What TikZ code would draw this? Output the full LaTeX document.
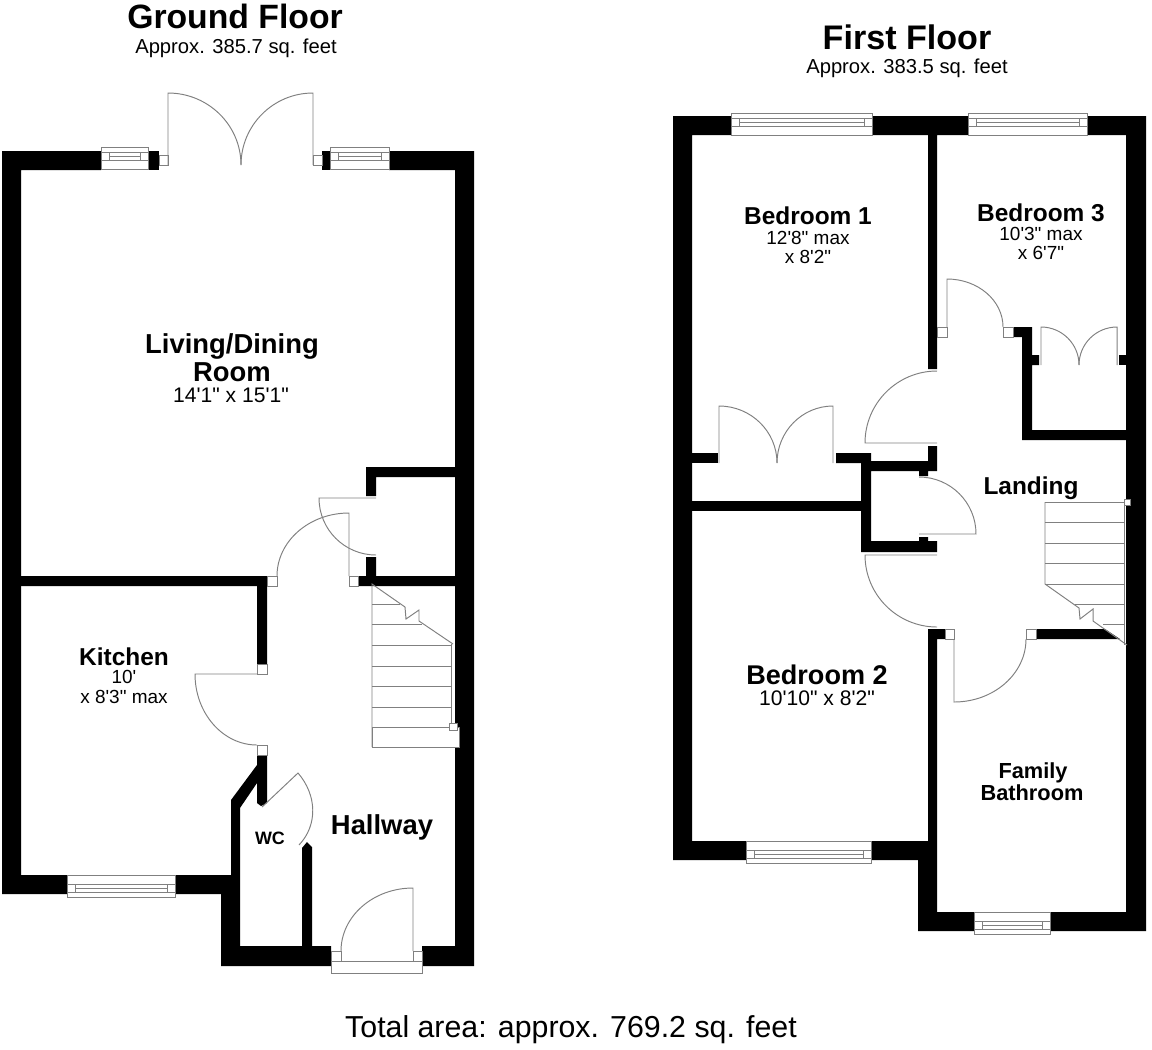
\documentclass[tikz,border=0pt]{standalone}
\usepackage{fontspec}
\usetikzlibrary{calc}
\newfontfamily\planfont{Liberation Sans}
\tikzset{
  wall/.style={fill=black,draw=none},
  planline/.style={draw=black!50,line width=0.55pt},
  boxline/.style={draw=black!50,fill=white,line width=0.55pt},
  floorname/.style={inner sep=0pt,font=\planfont\bfseries\fontsize{#1}{22}\selectfont},
  floorarea/.style={inner sep=0pt,font=\planfont\fontsize{11.5}{14}\selectfont},
  roomname/.style={inner sep=0pt,font=\planfont\bfseries\fontsize{#1}{18}\selectfont},
  roomdim/.style={inner sep=0pt,font=\planfont\fontsize{#1}{14}\selectfont}
}
% hinge, tip of the leaf, end of the swing
\newcommand{\doorleaf}[3]{
  \coordinate (corner) at ($(#2)+(#3)-(#1)$);
  \draw[planline] (#1) -- (#2) .. controls ($(#2)!0.5523!(corner)$) and ($(#3)!0.5523!(corner)$) .. (#3);
}
% left, right, top of frame, offset of the first glazing line
\newcommand{\sashwindow}[4]{
  \draw[boxline] (#1,#3) rectangle (#2,#3+22);
  \draw[planline] (#1,#3+#4) -- (#2,#3+#4);
  \draw[planline] (#1,#3+#4+8) -- (#2,#3+#4+8);
  \draw[planline] (#1+8,#3+#4) -- (#1+8,#3+#4+8);
  \draw[planline] (#2-8,#3+#4) -- (#2-8,#3+#4+8);
  \draw[planline] (#1+8,#3+#4+4) -- (#2-8,#3+#4+4);
}
\begin{document}
\begin{tikzpicture}[x=0.02cm,y=-0.02cm]
      \useasboundingbox (0,0) rectangle (1152,1049);
      % ground floor
      \fill[wall] (2,151) -- (101,151) -- (101,170) -- (21,170) -- (21,875) -- (67,875) -- (67,894) -- (2,894) -- cycle;
      \fill[wall] (148,151) rectangle (159,170);
      \fill[wall] (322,151) rectangle (330,170);
      \fill[wall] (389,151) -- (474,151) -- (474,966) -- (422,966) -- (422,946) -- (455,946) -- (455,170) -- (389,170) -- cycle;
      \fill[wall] (175,875) -- (231,875) -- (231,800) -- (257,765) -- (257,755) -- (267,755) -- (267,803) -- (261,806) -- (257,803) -- (257,783) -- (240,808) -- (240,946) -- (302,946) -- (302,848) -- (307,842) -- (312,847) -- (312,946) -- (331,946) -- (331,966) -- (221,966) -- (221,894) -- (175,894) -- cycle;
      \fill[wall] (21,576) -- (267,576) -- (267,664) -- (257,664) -- (257,586) -- (21,586) -- cycle;
      \fill[wall] (366,467) -- (455,467) -- (455,477) -- (376,477) -- (376,496) -- (366,496) -- cycle;
      \fill[wall] (366,557) -- (376,557) -- (376,576) -- (455,576) -- (455,586) -- (358,586) -- (358,576) -- (366,576) -- cycle;
      \sashwindow{101}{148}{147}{5}
      \sashwindow{330}{389}{147}{5}
      \sashwindow{67}{175}{875}{9}
      \draw[boxline] (159,155) rectangle (168,165);
      \draw[boxline] (313,155) rectangle (322,165);
      \draw[boxline] (267,576) rectangle (277,586);
      \draw[boxline] (349,576) rectangle (358,586);
      \draw[boxline] (257,664) rectangle (267,674);
      \draw[boxline] (257,745) rectangle (267,755);
      \draw[boxline] (331,951) rectangle (341,961);
      \draw[boxline] (413,951) rectangle (422,961);
      \draw[boxline] (331,961) rectangle (422,973);
      \doorleaf{168,165}{168,93}{241,165}
      \doorleaf{313,165}{313,93}{241,165}
      \doorleaf{349,576}{349,513}{277,576}
      \doorleaf{376,498}{319,498}{376,555}
      \doorleaf{257,674}{195,674}{257,745}
      \doorleaf{413,951}{413,888}{341,951}
      \draw[planline] (262,807) -- (298,773) .. controls (317,795) and (318,825) .. (299,845);
      % ground floor stairs
      \draw[boxline] (372,727) rectangle (459,747);
      \foreach \treadY in {645,666,686,707} {\draw[planline] (372,\treadY) -- (451,\treadY);}
      \draw[planline] (372,604) -- (400,604);
      \draw[planline] (372,624) -- (422,624);
      \draw[planline] (372,747) -- (372,584) -- (405,607) -- (406,619) -- (419,610) -- (419,621) -- (453,644);
      \draw[planline] (451,644) -- (451,727);
      \draw[boxline] (449,723) rectangle (457,730);
      % first floor
      \fill[wall] (673,116) -- (731,116) -- (731,135) -- (692,135) -- (692,841) -- (746,841) -- (746,860) -- (673,860) -- cycle;
      \fill[wall] (872,116) -- (968,116) -- (968,135) -- (937,135) -- (937,369) -- (928,369) -- (928,135) -- (872,135) -- cycle;
      \fill[wall] (1087,116) -- (1146,116) -- (1146,931) -- (1050,931) -- (1050,912) -- (1126,912) -- (1126,135) -- (1087,135) -- cycle;
      \fill[wall] (871,841) -- (928,841) -- (928,629) -- (945,629) -- (945,639) -- (937,639) -- (937,912) -- (974,912) -- (974,931) -- (918,931) -- (918,860) -- (871,860) -- cycle;
      \fill[wall] (1013,327) -- (1032,327) -- (1032,355) -- (1039,355) -- (1039,365) -- (1032,365) -- (1032,430) -- (1126,430) -- (1126,440) -- (1022,440) -- (1022,337) -- (1013,337) -- cycle;
      \fill[wall] (1119,355) rectangle (1126,365);
      \fill[wall] (692,453) rectangle (718,463);
      \fill[wall] (692,501) rectangle (861,511);
      \fill[wall] (836,453) -- (871,453) -- (871,461) -- (928,461) -- (928,446) -- (937,446) -- (937,471) -- (928,471) -- (928,476) -- (919,476) -- (919,471) -- (871,471) -- (871,541) -- (919,541) -- (919,537) -- (928,537) -- (928,541) -- (937,541) -- (937,552) -- (861,552) -- (861,463) -- (836,463) -- cycle;
      \fill[wall] (1036,629) -- (1105,629) -- (1120,639) -- (1036,639) -- cycle;
      \sashwindow{731}{872}{113}{5}
      \sashwindow{968}{1087}{113}{5}
      \sashwindow{746}{871}{841}{9}
      \sashwindow{974}{1050}{912}{9}
      \draw[boxline] (937,327) rectangle (947,337);
      \draw[boxline] (1003,327) rectangle (1013,337);
      \draw[boxline] (945,629) rectangle (954,639);
      \draw[boxline] (1026,629) rectangle (1036,639);
      \doorleaf{719,463}{719,406}{777,463}
      \doorleaf{833,463}{833,406}{777,463}
      \doorleaf{937,443}{865,443}{937,371}
      \doorleaf{947,327}{947,279}{1003,327}
      \doorleaf{1041,365}{1041,327}{1079,365}
      \doorleaf{1117,365}{1117,327}{1079,365}
      \doorleaf{919,534}{976,534}{919,477}
      \doorleaf{937,555}{865,555}{937,627}
      \doorleaf{954,639}{954,702}{1026,639}
      % first floor stairs
      \foreach \treadY in {502,522,543,563,584} {\draw[planline] (1045,\treadY) -- (1124,\treadY);}
      \draw[planline] (1075,604) -- (1124,604);
      \draw[planline] (1103,624) -- (1124,624);
      \draw[planline] (1045,502) -- (1045,584) -- (1079,608) -- (1080,619) -- (1093,609) -- (1093,621) -- (1127,645);
      \draw[planline] (1124,502) -- (1124,645);
      \draw[boxline] (1124,499) rectangle (1130,505);
      % texts
      \node[floorname=19.2] (groundtitle) at (235,16) {Ground Floor};
      \node[floorarea] (groundarea) at (236,48) {Approx. 385.7 sq. feet};
      \node[floorname=19.4] (firsttitle) at (907,37) {First Floor};
      \node[floorarea] (firstarea) at (907,68) {Approx. 383.5 sq. feet};
      \node[roomname=15.6] (living) at (232,346) {Living/Dining};
      \node[roomname=15.6] (livingb) at (232,372) {Room};
      \node[roomdim=12] (livingdim) at (231,395) {14'1" x 15'1"};
      \node[roomname=13.9] (kitchen) at (124,657) {Kitchen};
      \node[roomdim=10.8] (kitchendim) at (124,677) {10'};
      \node[roomdim=10.8] (kitchendimb) at (124,697) {x 8'3" max};
      \node[roomname=15.6] (hallway) at (382,827) {Hallway};
      \node[roomname=10.2] (wc) at (270,838) {WC};
      \node[roomname=13.9] (bedone) at (808,216) {Bedroom 1};
      \node[roomdim=10.8] (bedonedim) at (808,238) {12'8" max};
      \node[roomdim=10.8] (bedonedimb) at (808,257) {x 8'2"};
      \node[roomname=13.9] (bedthree) at (1041,213) {Bedroom 3};
      \node[roomdim=10.8] (bedthreedim) at (1041,234) {10'3" max};
      \node[roomdim=10.8] (bedthreedimb) at (1041,253) {x 6'7"};
      \node[roomname=15.4] (bedtwo) at (817,675) {Bedroom 2};
      \node[roomdim=12] (bedtwodim) at (817,698) {10'10" x 8'2"};
      \node[roomname=13.9] (landing) at (1031,488) {Landing};
      \node[roomname=12.4] (family) at (1033,773) {Family};
      \node[roomname=12.4] (bathroom) at (1032,793) {Bathroom};
      \node[inner sep=0pt,font=\planfont\fontsize{17.25}{20}\selectfont] (total) at (571,1030) {Total area: approx. 769.2 sq. feet};
    \end{tikzpicture}
\end{document}
